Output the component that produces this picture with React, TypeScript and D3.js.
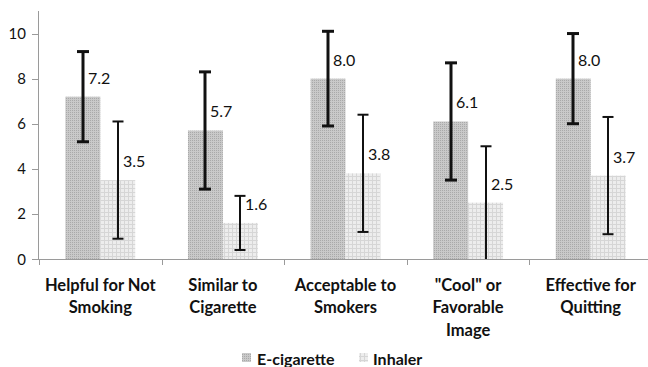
import React from "react";
import * as d3 from "d3";

// chart values
const categoryLines = [
  ["Helpful for Not", "Smoking"],
  ["Similar to", "Cigarette"],
  ["Acceptable to", "Smokers"],
  ['"Cool" or', "Favorable", "Image"],
  ["Effective for", "Quitting"],
];
const categories = categoryLines.map((l) => l.join(" "));
const seriesNames = ["E-cigarette", "Inhaler"];

const ecigValues = [7.2, 5.7, 8.0, 6.1, 8.0];
const ecigLow = [5.2, 3.1, 5.9, 3.5, 6.0];
const ecigHigh = [9.2, 8.3, 10.1, 8.7, 10.0];

const inhalerValues = [3.5, 1.6, 3.8, 2.5, 3.7];
const inhalerLow = [0.9, 0.4, 1.2, 0, 1.1];
const inhalerHigh = [6.1, 2.8, 6.4, 5.0, 6.3];

const yTicks = [0, 2, 4, 6, 8, 10];

const W = 648;
const H = 367;
const FONT = "Lato, 'Open Sans', sans-serif";

export default function App() {
  const x0 = d3
    .scaleBand<string>()
    .domain(categories)
    .range([39, 652])
    .paddingInner(0.43)
    .paddingOuter(0.215);
  const x1 = d3
    .scaleBand<string>()
    .domain(seriesNames)
    .range([0, x0.bandwidth()]);
  const y = d3.scaleLinear().domain([0, 11]).range([259, 11]);

  const series = [
    { name: seriesNames[0], values: ecigValues, low: ecigLow, high: ecigHigh, fill: "url(#ecig)", sw: 3, cap: 12 },
    { name: seriesNames[1], values: inhalerValues, low: inhalerLow, high: inhalerHigh, fill: "url(#inh)", sw: 2, cap: 11 },
  ];

  const step = x0.step();
  const boundaries = d3.range(categories.length + 1).map((i) => 39 + i * step);

  return (
    <div style={{ position: "fixed", left: 0, top: 0 }}>
      <svg width={W} height={H} style={{ display: "block", background: "#fff" }}>
        <defs>
          <pattern id="ecig" width="2" height="2" patternUnits="userSpaceOnUse">
            <rect width="2" height="2" fill="#c9c9c9" />
            <rect width="1" height="1" fill="#a9a9a9" />
          </pattern>
          <pattern id="inh" width="4" height="4" patternUnits="userSpaceOnUse">
            <rect width="4" height="4" fill="#ededed" />
            <rect width="4" height="1" fill="#d6d6d6" />
            <rect width="1" height="4" fill="#d6d6d6" />
          </pattern>
        </defs>

        {/* y axis */}
        <line x1={38.5} x2={38.5} y1={y(11)} y2={259} stroke="#9a9a9a" />
        {yTicks.map((t) => (
          <g key={t}>
            <line x1={32} x2={39} y1={Math.round(y(t)) + 0.5} y2={Math.round(y(t)) + 0.5} stroke="#9a9a9a" />
            <text x={26} y={y(t) + 5.5} textAnchor="end" fontSize={15} fontFamily={FONT} fill="#111">
              {t}
            </text>
          </g>
        ))}

        {/* bars */}
        {series.map((s) =>
          categories.map((c, i) => (
            <rect
              key={s.name + c}
              x={x0(c)! + x1(s.name)!}
              y={y(s.values[i])}
              width={x1.bandwidth()}
              height={y(0) - y(s.values[i])}
              fill={s.fill}
            />
          ))
        )}

        {/* x axis */}
        <line x1={39} x2={W} y1={259.5} y2={259.5} stroke="#9a9a9a" />
        {boundaries.map((b, i) => (
          <line key={i} x1={Math.round(b) + 0.5} x2={Math.round(b) + 0.5} y1={259} y2={265} stroke="#9a9a9a" />
        ))}

        {/* error bars and value labels */}
        {series.map((s) =>
          categories.map((c, i) => {
            const cx = Math.round(x0(c)! + x1(s.name)! + x1.bandwidth() / 2);
            return (
              <g key={"e" + s.name + c}>
                <line x1={cx} x2={cx} y1={y(s.low[i])} y2={y(s.high[i])} stroke="#111" strokeWidth={s.sw} />
                <line x1={cx - s.cap / 2} x2={cx + s.cap / 2} y1={y(s.high[i])} y2={y(s.high[i])} stroke="#111" strokeWidth={s.sw} />
                {s.low[i] > 0 && (
                  <line x1={cx - s.cap / 2} x2={cx + s.cap / 2} y1={y(s.low[i])} y2={y(s.low[i])} stroke="#111" strokeWidth={s.sw} />
                )}
                <text x={cx + 5} y={y(s.values[i]) - 13} fontSize={16} fontFamily={FONT} fill="#111">
                  {s.values[i].toFixed(1)}
                </text>
              </g>
            );
          })
        )}

        {/* category labels */}
        {categoryLines.map((lines, i) => (
          <text
            key={i}
            x={x0(categories[i])! + x0.bandwidth() / 2}
            y={290.5}
            textAnchor="middle"
            fontSize={16.5}
            fontWeight="bold"
            fontFamily={FONT}
            fill="#111"
          >
            {lines.map((l, j) => (
              <tspan key={j} x={x0(categories[i])! + x0.bandwidth() / 2} dy={j === 0 ? 0 : 22.5}>
                {l}
              </tspan>
            ))}
          </text>
        ))}

        {/* legend */}
        <rect x={242} y={353} width={9} height={9} fill="url(#ecig)" />
        <text x={257} y={365} fontSize={16} fontWeight="bold" fontFamily={FONT} fill="#111">
          {seriesNames[0]}
        </text>
        <rect x={359} y={353} width={9} height={9} fill="url(#inh)" />
        <text x={373} y={365} fontSize={16} fontWeight="bold" fontFamily={FONT} fill="#111">
          {seriesNames[1]}
        </text>
      </svg>
    </div>
  );
}
